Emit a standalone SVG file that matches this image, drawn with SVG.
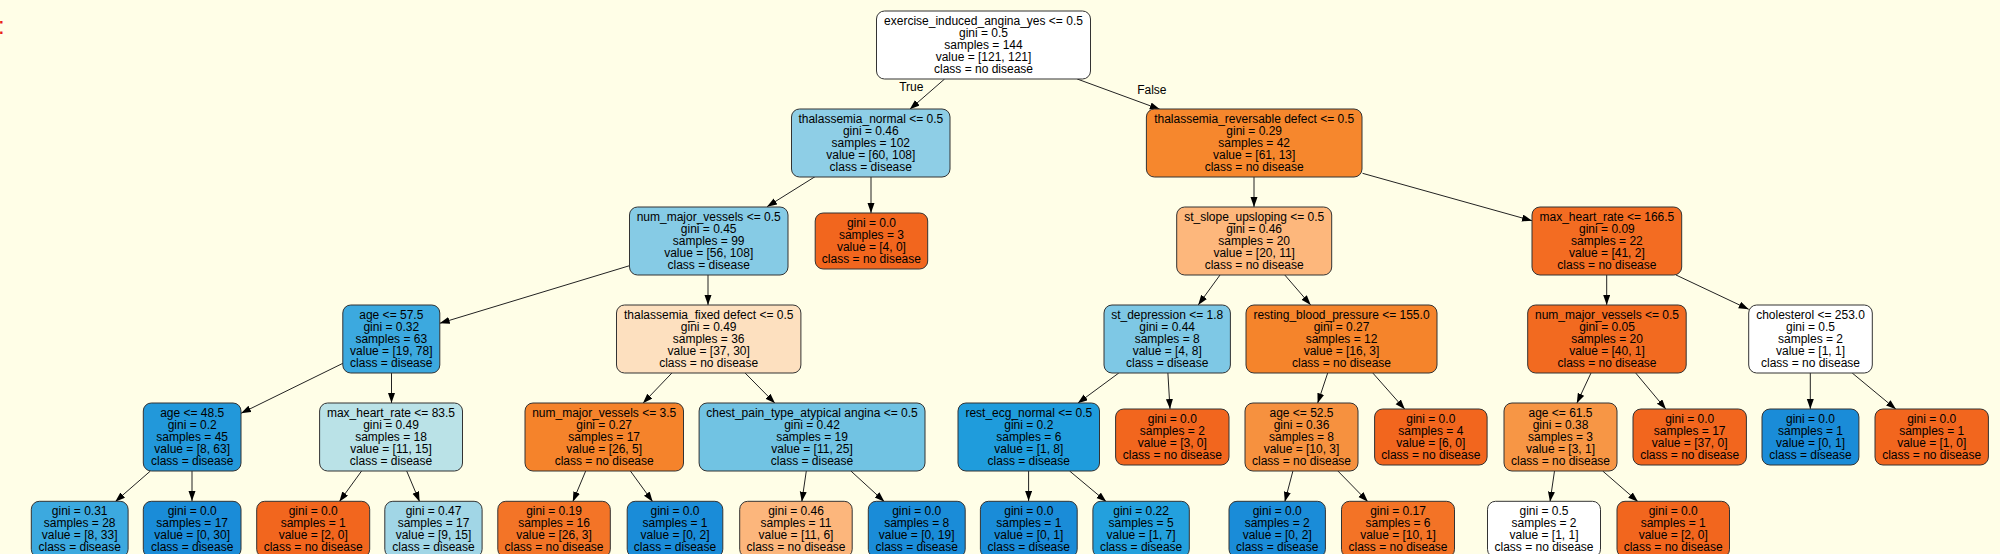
<svg xmlns="http://www.w3.org/2000/svg" width="2000" height="554" viewBox="0 0 2000 554">
<style>
text{font-family:"Liberation Sans",Arial,sans-serif;font-size:12px;fill:#000;text-anchor:middle}
.n rect{stroke:#333;stroke-width:1}
.e line{stroke:#222;stroke-width:1;marker-end:url(#ah)}
</style>
<defs>
<marker id="ah" markerUnits="userSpaceOnUse" markerWidth="10" markerHeight="8" refX="10" refY="3.5" orient="auto"><path d="M0,0 L10,3.5 L0,7 z" fill="#000"/></marker>
</defs>
<rect width="2000" height="554" fill="#fffee7"/>
<text x="-2" y="34" style="font-size:24px;fill:#e8201b;text-anchor:start">:</text>
<g id="edges" class="e">
<line x1="944.6" y1="79" x2="909.8" y2="109.3"/>
<line x1="1077.2" y1="79" x2="1159.8" y2="109.3"/>
<line x1="815" y1="176.7" x2="767" y2="206.7"/>
<line x1="871" y1="176.7" x2="871" y2="213"/>
<line x1="629.5" y1="265.7" x2="439.7" y2="323.3"/>
<line x1="708" y1="275" x2="708" y2="305"/>
<line x1="342.9" y1="363.3" x2="241" y2="413.3"/>
<line x1="391.5" y1="373" x2="391.5" y2="403"/>
<line x1="150.4" y1="471" x2="115.2" y2="501.7"/>
<line x1="192" y1="471" x2="192" y2="501"/>
<line x1="361.6" y1="471" x2="339.3" y2="501.7"/>
<line x1="406.7" y1="471" x2="419.6" y2="501.7"/>
<line x1="671.9" y1="373" x2="642.9" y2="403.3"/>
<line x1="745.1" y1="373" x2="775" y2="403.3"/>
<line x1="585.7" y1="471" x2="572.8" y2="501.7"/>
<line x1="630.4" y1="471" x2="652.7" y2="501.7"/>
<line x1="806.3" y1="471" x2="801.8" y2="501.7"/>
<line x1="850.9" y1="471" x2="884.4" y2="501.7"/>
<line x1="1254" y1="176.7" x2="1254" y2="207"/>
<line x1="1362.5" y1="173.3" x2="1532" y2="220.7"/>
<line x1="1220" y1="275" x2="1198.2" y2="305"/>
<line x1="1284.8" y1="275" x2="1310.7" y2="305"/>
<line x1="1118.8" y1="373" x2="1077.7" y2="403.3"/>
<line x1="1167.9" y1="373" x2="1170" y2="409"/>
<line x1="1028.6" y1="471" x2="1028.6" y2="501"/>
<line x1="1069.6" y1="471" x2="1106.3" y2="501.7"/>
<line x1="1327.7" y1="373" x2="1317.6" y2="403.3"/>
<line x1="1372.8" y1="373" x2="1404.9" y2="409.3"/>
<line x1="1292.9" y1="471" x2="1284.8" y2="501.7"/>
<line x1="1337.9" y1="471" x2="1367.9" y2="501.7"/>
<line x1="1606.7" y1="275" x2="1606.7" y2="305"/>
<line x1="1676" y1="275" x2="1748.7" y2="309.3"/>
<line x1="1591" y1="373" x2="1576.8" y2="403.3"/>
<line x1="1635.7" y1="373" x2="1666" y2="409.3"/>
<line x1="1554.5" y1="471" x2="1550" y2="501.7"/>
<line x1="1602.7" y1="471" x2="1638" y2="501.7"/>
<line x1="1810.3" y1="373" x2="1810.3" y2="409"/>
<line x1="1852.2" y1="373" x2="1896" y2="409.3"/>
<text x="911.3" y="91">True</text>
<text x="1151.8" y="94">False</text>
</g>
<g id="n0" class="n"><rect x="876.5" y="11" width="214" height="68" rx="8" fill="#ffffff"/><text x="983.5" y="25">exercise_induced_angina_yes &lt;= 0.5<tspan x="983.5" dy="12">gini = 0.5</tspan><tspan x="983.5" dy="12">samples = 144</tspan><tspan x="983.5" dy="12">value = [121, 121]</tspan><tspan x="983.5" dy="12">class = no disease</tspan></text></g>
<g id="n1" class="n"><rect x="791.5" y="109" width="158.5" height="68" rx="8" fill="#8ecee6"/><text x="870.8" y="123">thalassemia_normal &lt;= 0.5<tspan x="870.8" dy="12">gini = 0.46</tspan><tspan x="870.8" dy="12">samples = 102</tspan><tspan x="870.8" dy="12">value = [60, 108]</tspan><tspan x="870.8" dy="12">class = disease</tspan></text></g>
<g id="n2" class="n"><rect x="629.5" y="207" width="158.5" height="68" rx="8" fill="#86cbe5"/><text x="708.7" y="221">num_major_vessels &lt;= 0.5<tspan x="708.7" dy="12">gini = 0.45</tspan><tspan x="708.7" dy="12">samples = 99</tspan><tspan x="708.7" dy="12">value = [56, 108]</tspan><tspan x="708.7" dy="12">class = disease</tspan></text></g>
<g id="n3" class="n"><rect x="342.8" y="305" width="97" height="68" rx="8" fill="#3ca9df"/><text x="391.3" y="319">age &lt;= 57.5<tspan x="391.3" dy="12">gini = 0.32</tspan><tspan x="391.3" dy="12">samples = 63</tspan><tspan x="391.3" dy="12">value = [19, 78]</tspan><tspan x="391.3" dy="12">class = disease</tspan></text></g>
<g id="n4" class="n"><rect x="143.3" y="403" width="97.7" height="68" rx="8" fill="#2298da"/><text x="192.2" y="417">age &lt;= 48.5<tspan x="192.2" dy="12">gini = 0.2</tspan><tspan x="192.2" dy="12">samples = 45</tspan><tspan x="192.2" dy="12">value = [8, 63]</tspan><tspan x="192.2" dy="12">class = disease</tspan></text></g>
<g id="n5" class="n"><rect x="31.3" y="501.3" width="96.8" height="56" rx="8" fill="#3ca9df"/><text x="79.7" y="515.3">gini = 0.31<tspan x="79.7" dy="12">samples = 28</tspan><tspan x="79.7" dy="12">value = [8, 33]</tspan><tspan x="79.7" dy="12">class = disease</tspan></text></g>
<g id="n6" class="n"><rect x="143.3" y="501.3" width="97.7" height="56" rx="8" fill="#1a8cd8"/><text x="192.2" y="515.3">gini = 0.0<tspan x="192.2" dy="12">samples = 17</tspan><tspan x="192.2" dy="12">value = [0, 30]</tspan><tspan x="192.2" dy="12">class = disease</tspan></text></g>
<g id="n7" class="n"><rect x="319.6" y="403" width="142.9" height="68" rx="8" fill="#bae2e7"/><text x="391" y="417">max_heart_rate &lt;= 83.5<tspan x="391" dy="12">gini = 0.49</tspan><tspan x="391" dy="12">samples = 18</tspan><tspan x="391" dy="12">value = [11, 15]</tspan><tspan x="391" dy="12">class = disease</tspan></text></g>
<g id="n8" class="n"><rect x="256.7" y="501.3" width="113" height="56" rx="8" fill="#f2661e"/><text x="313.2" y="515.3">gini = 0.0<tspan x="313.2" dy="12">samples = 1</tspan><tspan x="313.2" dy="12">value = [2, 0]</tspan><tspan x="313.2" dy="12">class = no disease</tspan></text></g>
<g id="n9" class="n"><rect x="384.8" y="501.3" width="97.3" height="56" rx="8" fill="#a1d6e6"/><text x="433.5" y="515.3">gini = 0.47<tspan x="433.5" dy="12">samples = 17</tspan><tspan x="433.5" dy="12">value = [9, 15]</tspan><tspan x="433.5" dy="12">class = disease</tspan></text></g>
<g id="n10" class="n"><rect x="616.5" y="305" width="184.4" height="68" rx="8" fill="#fde0bf"/><text x="708.7" y="319">thalassemia_fixed defect &lt;= 0.5<tspan x="708.7" dy="12">gini = 0.49</tspan><tspan x="708.7" dy="12">samples = 36</tspan><tspan x="708.7" dy="12">value = [37, 30]</tspan><tspan x="708.7" dy="12">class = no disease</tspan></text></g>
<g id="n11" class="n"><rect x="525" y="403" width="158.5" height="68" rx="8" fill="#f5832b"/><text x="604.2" y="417">num_major_vessels &lt;= 3.5<tspan x="604.2" dy="12">gini = 0.27</tspan><tspan x="604.2" dy="12">samples = 17</tspan><tspan x="604.2" dy="12">value = [26, 5]</tspan><tspan x="604.2" dy="12">class = no disease</tspan></text></g>
<g id="n12" class="n"><rect x="497.8" y="501.3" width="112.5" height="56" rx="8" fill="#f37427"/><text x="554" y="515.3">gini = 0.19<tspan x="554" dy="12">samples = 16</tspan><tspan x="554" dy="12">value = [26, 3]</tspan><tspan x="554" dy="12">class = no disease</tspan></text></g>
<g id="n13" class="n"><rect x="627.2" y="501.3" width="95.6" height="56" rx="8" fill="#1a8cd8"/><text x="675" y="515.3">gini = 0.0<tspan x="675" dy="12">samples = 1</tspan><tspan x="675" dy="12">value = [0, 2]</tspan><tspan x="675" dy="12">class = disease</tspan></text></g>
<g id="n14" class="n"><rect x="699.1" y="403" width="225.9" height="68" rx="8" fill="#71c3e3"/><text x="812" y="417">chest_pain_type_atypical angina &lt;= 0.5<tspan x="812" dy="12">gini = 0.42</tspan><tspan x="812" dy="12">samples = 19</tspan><tspan x="812" dy="12">value = [11, 25]</tspan><tspan x="812" dy="12">class = disease</tspan></text></g>
<g id="n15" class="n"><rect x="739.7" y="501.3" width="112.5" height="56" rx="8" fill="#fcb67c"/><text x="796" y="515.3">gini = 0.46<tspan x="796" dy="12">samples = 11</tspan><tspan x="796" dy="12">value = [11, 6]</tspan><tspan x="796" dy="12">class = no disease</tspan></text></g>
<g id="n16" class="n"><rect x="868.3" y="501.3" width="96.9" height="56" rx="8" fill="#1a8cd8"/><text x="916.7" y="515.3">gini = 0.0<tspan x="916.7" dy="12">samples = 8</tspan><tspan x="916.7" dy="12">value = [0, 19]</tspan><tspan x="916.7" dy="12">class = disease</tspan></text></g>
<g id="n17" class="n"><rect x="815.2" y="213" width="112.5" height="56" rx="8" fill="#f2661e"/><text x="871.4" y="227">gini = 0.0<tspan x="871.4" dy="12">samples = 3</tspan><tspan x="871.4" dy="12">value = [4, 0]</tspan><tspan x="871.4" dy="12">class = no disease</tspan></text></g>
<g id="n18" class="n"><rect x="1146.4" y="109" width="215.6" height="68" rx="8" fill="#f6872d"/><text x="1254.2" y="123">thalassemia_reversable defect &lt;= 0.5<tspan x="1254.2" dy="12">gini = 0.29</tspan><tspan x="1254.2" dy="12">samples = 42</tspan><tspan x="1254.2" dy="12">value = [61, 13]</tspan><tspan x="1254.2" dy="12">class = no disease</tspan></text></g>
<g id="n19" class="n"><rect x="1176.7" y="207" width="155" height="68" rx="8" fill="#fdb77c"/><text x="1254.2" y="221">st_slope_upsloping &lt;= 0.5<tspan x="1254.2" dy="12">gini = 0.46</tspan><tspan x="1254.2" dy="12">samples = 20</tspan><tspan x="1254.2" dy="12">value = [20, 11]</tspan><tspan x="1254.2" dy="12">class = no disease</tspan></text></g>
<g id="n20" class="n"><rect x="1104" y="305" width="126.4" height="68" rx="8" fill="#7ec8e5"/><text x="1167.2" y="319">st_depression &lt;= 1.8<tspan x="1167.2" dy="12">gini = 0.44</tspan><tspan x="1167.2" dy="12">samples = 8</tspan><tspan x="1167.2" dy="12">value = [4, 8]</tspan><tspan x="1167.2" dy="12">class = disease</tspan></text></g>
<g id="n21" class="n"><rect x="958" y="403" width="141.5" height="68" rx="8" fill="#1f9cdc"/><text x="1028.8" y="417">rest_ecg_normal &lt;= 0.5<tspan x="1028.8" dy="12">gini = 0.2</tspan><tspan x="1028.8" dy="12">samples = 6</tspan><tspan x="1028.8" dy="12">value = [1, 8]</tspan><tspan x="1028.8" dy="12">class = disease</tspan></text></g>
<g id="n22" class="n"><rect x="980.4" y="501.3" width="96.8" height="56" rx="8" fill="#1a8cd8"/><text x="1028.8" y="515.3">gini = 0.0<tspan x="1028.8" dy="12">samples = 1</tspan><tspan x="1028.8" dy="12">value = [0, 1]</tspan><tspan x="1028.8" dy="12">class = disease</tspan></text></g>
<g id="n23" class="n"><rect x="1092.9" y="501.3" width="96.4" height="56" rx="8" fill="#23a0dd"/><text x="1141.1" y="515.3">gini = 0.22<tspan x="1141.1" dy="12">samples = 5</tspan><tspan x="1141.1" dy="12">value = [1, 7]</tspan><tspan x="1141.1" dy="12">class = disease</tspan></text></g>
<g id="n24" class="n"><rect x="1115.6" y="409" width="113.4" height="56" rx="8" fill="#f2661e"/><text x="1172.3" y="423">gini = 0.0<tspan x="1172.3" dy="12">samples = 2</tspan><tspan x="1172.3" dy="12">value = [3, 0]</tspan><tspan x="1172.3" dy="12">class = no disease</tspan></text></g>
<g id="n25" class="n"><rect x="1246" y="305" width="191" height="68" rx="8" fill="#f5842b"/><text x="1341.5" y="319">resting_blood_pressure &lt;= 155.0<tspan x="1341.5" dy="12">gini = 0.27</tspan><tspan x="1341.5" dy="12">samples = 12</tspan><tspan x="1341.5" dy="12">value = [16, 3]</tspan><tspan x="1341.5" dy="12">class = no disease</tspan></text></g>
<g id="n26" class="n"><rect x="1245" y="403" width="113" height="68" rx="8" fill="#f6913f"/><text x="1301.5" y="417">age &lt;= 52.5<tspan x="1301.5" dy="12">gini = 0.36</tspan><tspan x="1301.5" dy="12">samples = 8</tspan><tspan x="1301.5" dy="12">value = [10, 3]</tspan><tspan x="1301.5" dy="12">class = no disease</tspan></text></g>
<g id="n27" class="n"><rect x="1229" y="501.3" width="96.4" height="56" rx="8" fill="#1a8cd8"/><text x="1277.2" y="515.3">gini = 0.0<tspan x="1277.2" dy="12">samples = 2</tspan><tspan x="1277.2" dy="12">value = [0, 2]</tspan><tspan x="1277.2" dy="12">class = disease</tspan></text></g>
<g id="n28" class="n"><rect x="1341.5" y="501.3" width="113" height="56" rx="8" fill="#f37326"/><text x="1398" y="515.3">gini = 0.17<tspan x="1398" dy="12">samples = 6</tspan><tspan x="1398" dy="12">value = [10, 1]</tspan><tspan x="1398" dy="12">class = no disease</tspan></text></g>
<g id="n29" class="n"><rect x="1374.6" y="409" width="112.5" height="56" rx="8" fill="#f2661e"/><text x="1430.8" y="423">gini = 0.0<tspan x="1430.8" dy="12">samples = 4</tspan><tspan x="1430.8" dy="12">value = [6, 0]</tspan><tspan x="1430.8" dy="12">class = no disease</tspan></text></g>
<g id="n30" class="n"><rect x="1532" y="207" width="149.7" height="68" rx="8" fill="#f36c22"/><text x="1606.9" y="221">max_heart_rate &lt;= 166.5<tspan x="1606.9" dy="12">gini = 0.09</tspan><tspan x="1606.9" dy="12">samples = 22</tspan><tspan x="1606.9" dy="12">value = [41, 2]</tspan><tspan x="1606.9" dy="12">class = no disease</tspan></text></g>
<g id="n31" class="n"><rect x="1527.7" y="305" width="158.5" height="68" rx="8" fill="#f26a20"/><text x="1607" y="319">num_major_vessels &lt;= 0.5<tspan x="1607" dy="12">gini = 0.05</tspan><tspan x="1607" dy="12">samples = 20</tspan><tspan x="1607" dy="12">value = [40, 1]</tspan><tspan x="1607" dy="12">class = no disease</tspan></text></g>
<g id="n32" class="n"><rect x="1504" y="403" width="113" height="68" rx="8" fill="#f79645"/><text x="1560.5" y="417">age &lt;= 61.5<tspan x="1560.5" dy="12">gini = 0.38</tspan><tspan x="1560.5" dy="12">samples = 3</tspan><tspan x="1560.5" dy="12">value = [3, 1]</tspan><tspan x="1560.5" dy="12">class = no disease</tspan></text></g>
<g id="n33" class="n"><rect x="1487.5" y="501.3" width="113" height="56" rx="8" fill="#ffffff"/><text x="1544" y="515.3">gini = 0.5<tspan x="1544" dy="12">samples = 2</tspan><tspan x="1544" dy="12">value = [1, 1]</tspan><tspan x="1544" dy="12">class = no disease</tspan></text></g>
<g id="n34" class="n"><rect x="1617" y="501.3" width="112.5" height="56" rx="8" fill="#f2661e"/><text x="1673.2" y="515.3">gini = 0.0<tspan x="1673.2" dy="12">samples = 1</tspan><tspan x="1673.2" dy="12">value = [2, 0]</tspan><tspan x="1673.2" dy="12">class = no disease</tspan></text></g>
<g id="n35" class="n"><rect x="1633" y="409" width="113.4" height="56" rx="8" fill="#f2661e"/><text x="1689.7" y="423">gini = 0.0<tspan x="1689.7" dy="12">samples = 17</tspan><tspan x="1689.7" dy="12">value = [37, 0]</tspan><tspan x="1689.7" dy="12">class = no disease</tspan></text></g>
<g id="n36" class="n"><rect x="1748.7" y="305" width="123.6" height="68" rx="8" fill="#ffffff"/><text x="1810.5" y="319">cholesterol &lt;= 253.0<tspan x="1810.5" dy="12">gini = 0.5</tspan><tspan x="1810.5" dy="12">samples = 2</tspan><tspan x="1810.5" dy="12">value = [1, 1]</tspan><tspan x="1810.5" dy="12">class = no disease</tspan></text></g>
<g id="n37" class="n"><rect x="1762" y="409" width="96.9" height="56" rx="8" fill="#1a8cd8"/><text x="1810.5" y="423">gini = 0.0<tspan x="1810.5" dy="12">samples = 1</tspan><tspan x="1810.5" dy="12">value = [0, 1]</tspan><tspan x="1810.5" dy="12">class = disease</tspan></text></g>
<g id="n38" class="n"><rect x="1875" y="409" width="113.4" height="56" rx="8" fill="#f2661e"/><text x="1931.7" y="423">gini = 0.0<tspan x="1931.7" dy="12">samples = 1</tspan><tspan x="1931.7" dy="12">value = [1, 0]</tspan><tspan x="1931.7" dy="12">class = no disease</tspan></text></g>
</svg>
